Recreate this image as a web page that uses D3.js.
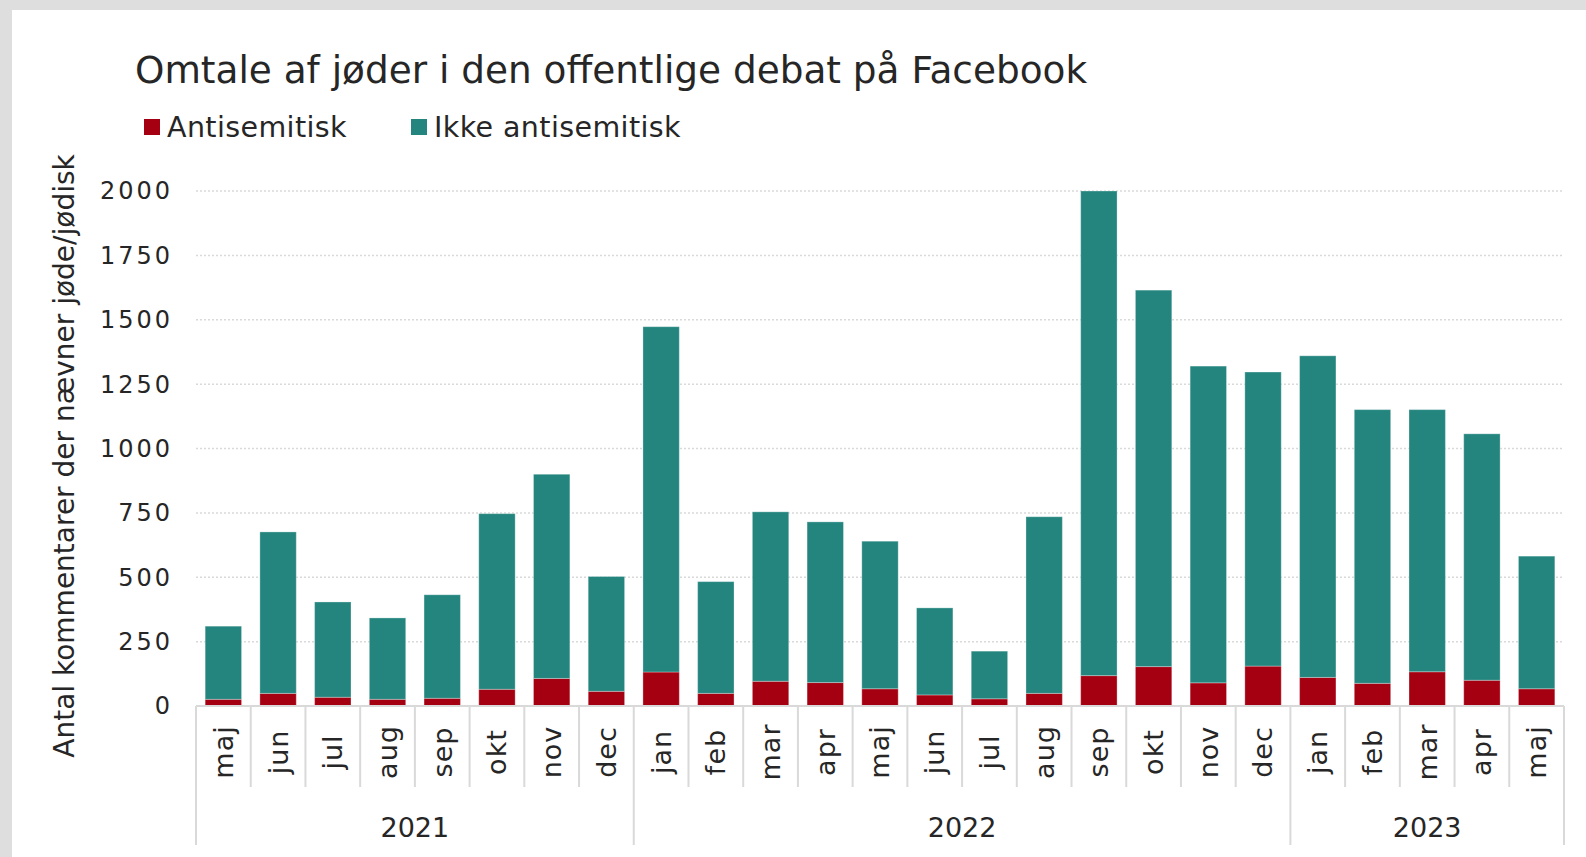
<!DOCTYPE html>
<html>
<head>
<meta charset="utf-8">
<script src="https://cdn.jsdelivr.net/npm/d3@7"></script>
<style>
  body { margin: 0; background: #dedede; }
  svg { display: block; }
  text { font-family: "DejaVu Sans", sans-serif; fill: #262626; }
</style>
</head>
<body>
<div id="chart"></div>
<script>
// data
var months = ['maj','jun','jul','aug','sep','okt','nov','dec',
              'jan','feb','mar','apr','maj','jun','jul','aug','sep','okt','nov','dec',
              'jan','feb','mar','apr','maj'];
var yearLabels = ['2021','2022','2023'];
var yearCounts = [8, 12, 5];
var antisemitisk = [26,49,34,26,30,65,107,57,132,49,96,91,67,43,28,49,118,153,90,155,111,88,133,100,67];
var ikkeAntisemitisk = [284,627,370,316,402,682,793,446,1341,434,658,624,573,338,185,686,1882,1462,1230,1142,1249,1063,1018,957,515];
var yTicks = [0,250,500,750,1000,1250,1500,1750,2000];
var seriesNames = ['Antisemitisk','Ikke antisemitisk'];
var colors = ['#a50011','#23857e'];

var w = 1586, h = 857;
var svg = d3.select("#chart").append("svg")
    .attr("width", w).attr("height", h);

// white card on grey page
svg.append("rect").attr("x",12).attr("y",10).attr("width",w-12).attr("height",h-10).attr("fill","#fff");

var x = d3.scaleBand().domain(d3.range(months.length)).range([196,1564])
    .paddingInner(0.335).paddingOuter(0.1675);
var y = d3.scaleLinear().domain([0,2000]).range([706,191]);

// gridlines
svg.selectAll(".grid").data(yTicks.slice(1)).enter().append("line")
    .attr("x1",196).attr("x2",1564)
    .attr("y1",function(d){ return y(d); }).attr("y2",function(d){ return y(d); })
    .attr("stroke","#d9d9d9").attr("stroke-width",1.5).attr("stroke-dasharray","2,2");

// y tick labels (letter-spacing to get the wide numerals)
svg.selectAll(".ytl").data(yTicks).enter().append("text")
    .attr("x",173).attr("y",function(d){ return y(d); }).attr("dy","0.35em")
    .attr("text-anchor","end").attr("font-size","24px")
    .style("letter-spacing","3px")
    .text(function(d){ return d; });

// stacked bars
var rows = months.map(function(m,i){ return {i:i, a:antisemitisk[i], b:ikkeAntisemitisk[i]}; });
var stack = d3.stack().keys(['a','b'])(rows);
svg.selectAll(".layer").data(stack).enter().append("g")
    .attr("fill",function(d,i){ return colors[i]; })
    .selectAll("rect").data(function(d){ return d; }).enter().append("rect")
    .attr("x",function(d){ return x(d.data.i); })
    .attr("width",x.bandwidth())
    .attr("y",function(d){ return y(d[1]); })
    .attr("height",function(d){ return y(d[0]) - y(d[1]); })
    .attr("stroke","#ffffff").attr("stroke-opacity",0.3).attr("stroke-width",1);

// category axis
var step = x.step();
svg.append("line").attr("x1",196).attr("x2",1564).attr("y1",706).attr("y2",706)
    .attr("stroke","#d9d9d9").attr("stroke-width",2);
var yearBounds = [0];
yearCounts.forEach(function(c){ yearBounds.push(yearBounds[yearBounds.length-1]+c); });
d3.range(months.length+1).forEach(function(k){
  var isYear = yearBounds.indexOf(k) >= 0;
  svg.append("line").attr("x1",196+k*step).attr("x2",196+k*step)
     .attr("y1",706).attr("y2", isYear ? 845 : 787)
     .attr("stroke","#d9d9d9").attr("stroke-width",2);
});
svg.selectAll(".mlab").data(months).enter().append("text")
    .attr("transform",function(d,i){ return "translate(" + (x(i)+x.bandwidth()/2) + ",752) rotate(-90)"; })
    .attr("dy","0.35em").attr("text-anchor","middle").attr("font-size","27px")
    .style("letter-spacing","1px")
    .text(function(d){ return d; });
svg.selectAll(".ylab").data(yearLabels).enter().append("text")
    .attr("x",function(d,i){ return 196 + (yearBounds[i]+yearBounds[i+1])/2*step; })
    .attr("y",837).attr("text-anchor","middle").attr("font-size","27px")
    .text(function(d){ return d; });

// y axis title
svg.append("text")
    .attr("transform","translate(74,456) rotate(-90)")
    .attr("text-anchor","middle").attr("font-size","28px")
    .text("Antal kommentarer der nævner jøde/jødisk");

// title
svg.append("text").attr("x",135).attr("y",83).attr("font-size","37.4px")
    .text("Omtale af jøder i den offentlige debat på Facebook");

// legend
var legX = [144, 411];
seriesNames.forEach(function(s,i){
  svg.append("rect").attr("x",legX[i]).attr("y",119).attr("width",16).attr("height",16).attr("fill",colors[i]);
  svg.append("text").attr("x",legX[i]+23).attr("y",137).attr("font-size","28.5px")
     .style("letter-spacing","0.4px").text(s);
});
</script>
</body>
</html>
